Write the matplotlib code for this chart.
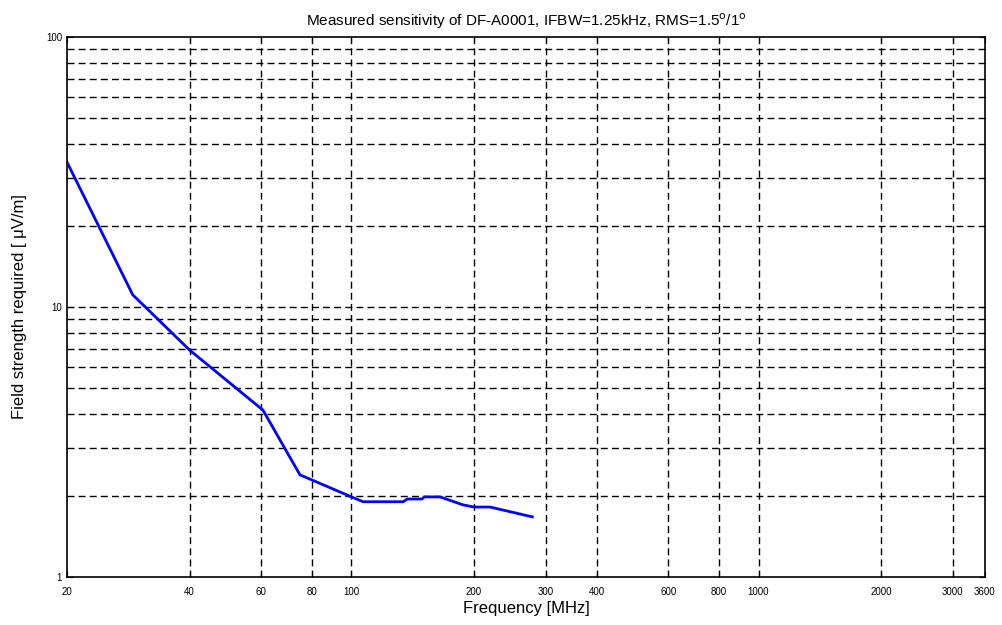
import numpy as np
import matplotlib
matplotlib.use("Agg")
import matplotlib.pyplot as plt
from matplotlib.ticker import FixedLocator, NullFormatter, NullLocator

# measured sensitivity
freq_mhz = [20, 29, 40, 60.6, 74.7, 100, 106.7, 134, 137, 149, 151, 165, 188, 200, 219, 278]
field_uvm = [34.4, 11.1, 6.93, 4.15, 2.39, 1.98, 1.90, 1.90, 1.945, 1.945, 1.98, 1.98, 1.85, 1.816, 1.816, 1.67]

x_ticks = [20, 40, 60, 80, 100, 200, 300, 400, 600, 800, 1000, 2000, 3000, 3600]
x_grid = [40, 60, 80, 100, 200, 300, 400, 600, 800, 1000, 2000, 3000]
y_ticks = [1, 10, 100]
y_grid = [m * d for d in (1, 10) for m in range(2, 10)]

plt.rcParams['font.family'] = ['Liberation Sans', 'DejaVu Sans']

fig = plt.figure(figsize=(10.03, 6.25), dpi=100)
ax = fig.add_axes([0.0668, 0.0768, 0.9152, 0.864])

ax.set_xscale('log')
ax.set_yscale('log')
ax.set_xlim(20, 3600)
ax.set_ylim(1, 100)

grid_style = dict(color='black', linestyle=(0, (5, 3)), linewidth=1.0, zorder=1)
for gx in x_grid:
    ax.axvline(gx, **grid_style)
for gy in y_grid + [10]:
    ax.axhline(gy, **grid_style)

ax.plot(freq_mhz, field_uvm, color='#0000ff', linewidth=2, zorder=3)

ax.xaxis.set_major_locator(FixedLocator(x_ticks))
ax.xaxis.set_minor_locator(NullLocator())
ax.set_xticklabels([str(t) for t in x_ticks])
ax.yaxis.set_major_locator(FixedLocator(y_ticks))
ax.yaxis.set_minor_locator(FixedLocator(y_grid))
ax.yaxis.set_minor_formatter(NullFormatter())
ax.set_yticklabels([str(t) for t in y_ticks])

ax.tick_params(which='both', direction='in', labelsize=7, length=4, top=True, right=True)
ax.tick_params(axis='x', pad=7)
ax.tick_params(which='minor', length=2)
for s in ax.spines.values():
    s.set_linewidth(1.2)

ax.set_title('Measured sensitivity of DF-A0001, IFBW=1.25kHz, RMS=1.5$^{\\rm o}$/1$^{\\rm o}$',
             fontsize=11, pad=8)
ax.set_xlabel('Frequency [MHz]', fontsize=12, labelpad=3)
ax.set_ylabel('Field strength required [ \u03bcV/m]', fontsize=12, labelpad=14)

fig.savefig('out.png', dpi=100)
